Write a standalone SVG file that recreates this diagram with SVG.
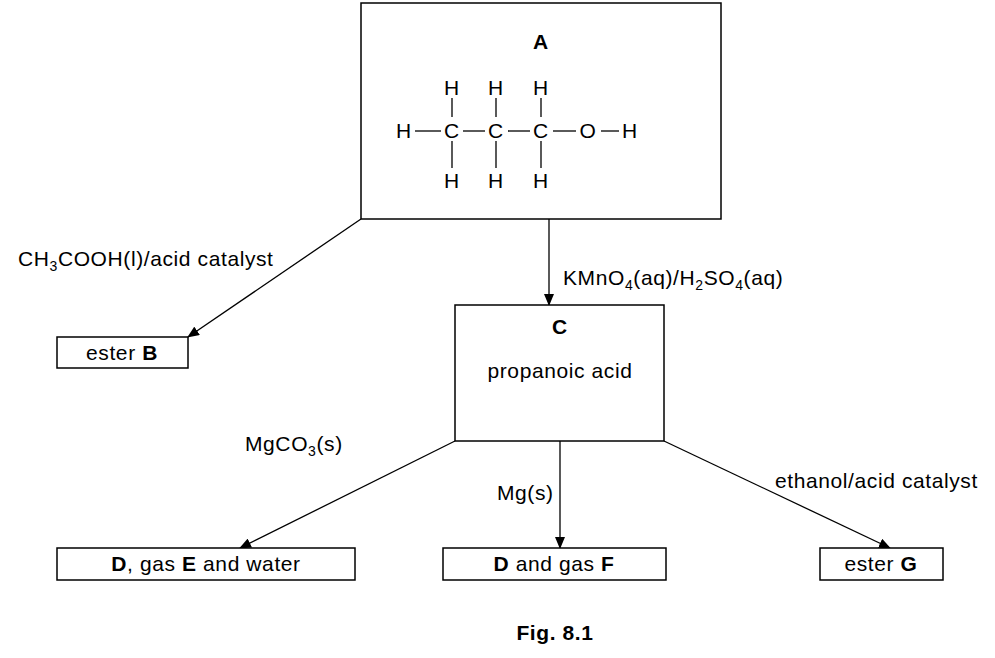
<svg xmlns="http://www.w3.org/2000/svg" width="995" height="658" viewBox="0 0 995 658">
<style>
text{font-family:"Liberation Sans",Arial,sans-serif;font-size:21px;letter-spacing:0.6px;fill:#000}
.b{font-weight:bold}
.box{fill:#fff;stroke:#000;stroke-width:1.5}
.ln{stroke:#000;stroke-width:1.3;fill:none}
.m{text-anchor:middle}
</style>
<defs><marker id="ar" markerWidth="12" markerHeight="10" refX="11" refY="5" orient="auto" markerUnits="userSpaceOnUse"><path d="M0,0 L12,5 L0,10 Z" fill="#000"/></marker></defs>
<rect width="995" height="658" fill="#fff"/>
<g id="connectors">
<line class="ln" x1="361" y1="219" x2="188" y2="337" marker-end="url(#ar)"/>
<line class="ln" x1="549" y1="219" x2="549" y2="305" marker-end="url(#ar)"/>
<line class="ln" x1="455" y1="441" x2="240" y2="548" marker-end="url(#ar)"/>
<line class="ln" x1="560" y1="441" x2="560" y2="548" marker-end="url(#ar)"/>
<line class="ln" x1="664" y1="441" x2="890" y2="548" marker-end="url(#ar)"/>
<text x="18" y="266">CH<tspan font-size="14" dy="5">3</tspan><tspan dy="-5">COOH(l)/acid catalyst</tspan></text>
<text x="563" y="285">KMnO<tspan font-size="14" dy="5">4</tspan><tspan dy="-5">(aq)/H</tspan><tspan font-size="14" dy="5">2</tspan><tspan dy="-5">SO</tspan><tspan font-size="14" dy="5">4</tspan><tspan dy="-5">(aq)</tspan></text>
<text x="245" y="451">MgCO<tspan font-size="14" dy="5">3</tspan><tspan dy="-5">(s)</tspan></text>
<text x="497" y="500">Mg(s)</text>
<text x="775" y="488">ethanol/acid catalyst</text>
</g>
<g id="A">
<rect class="box" x="361" y="3" width="360" height="216"/>
<text class="b m" x="541" y="49">A</text>
<g class="m">
<text x="452" y="95">H</text><text x="496" y="95">H</text><text x="541" y="95">H</text>
<text x="404" y="138">H</text><text x="452" y="138">C</text><text x="496" y="138">C</text><text x="541" y="138">C</text><text x="588" y="138">O</text><text x="630" y="138">H</text>
<text x="452" y="188">H</text><text x="496" y="188">H</text><text x="541" y="188">H</text>
</g>
<g class="ln">
<line x1="415" y1="131" x2="441" y2="131"/><line x1="463" y1="131" x2="485" y2="131"/><line x1="508" y1="131" x2="530" y2="131"/><line x1="553" y1="131" x2="576" y2="131"/><line x1="601" y1="131" x2="619" y2="131"/>
<line x1="452" y1="98" x2="452" y2="117"/><line x1="496" y1="98" x2="496" y2="117"/><line x1="541" y1="98" x2="541" y2="117"/>
<line x1="452" y1="141" x2="452" y2="168"/><line x1="496" y1="141" x2="496" y2="168"/><line x1="541" y1="141" x2="541" y2="168"/>
</g>
</g>
<g id="B"><rect class="box" x="57" y="337" width="131" height="31"/><text class="m" x="122" y="360">ester <tspan class="b">B</tspan></text></g>
<g id="C"><rect class="box" x="455" y="305" width="209" height="136"/><text class="b m" x="560" y="334">C</text><text class="m" x="560" y="378">propanoic acid</text></g>
<g id="DE"><rect class="box" x="57" y="548" width="298" height="32"/><text class="m" x="206" y="571"><tspan class="b">D</tspan>, gas <tspan class="b">E</tspan> and water</text></g>
<g id="DF"><rect class="box" x="443" y="548" width="223" height="32"/><text class="m" x="554" y="571"><tspan class="b">D</tspan> and gas <tspan class="b">F</tspan></text></g>
<g id="G"><rect class="box" x="820" y="548" width="123" height="32"/><text class="m" x="881" y="571">ester <tspan class="b">G</tspan></text></g>
<text class="b m" x="555" y="640" font-size="15" letter-spacing="0">Fig. 8.1</text>
</svg>
